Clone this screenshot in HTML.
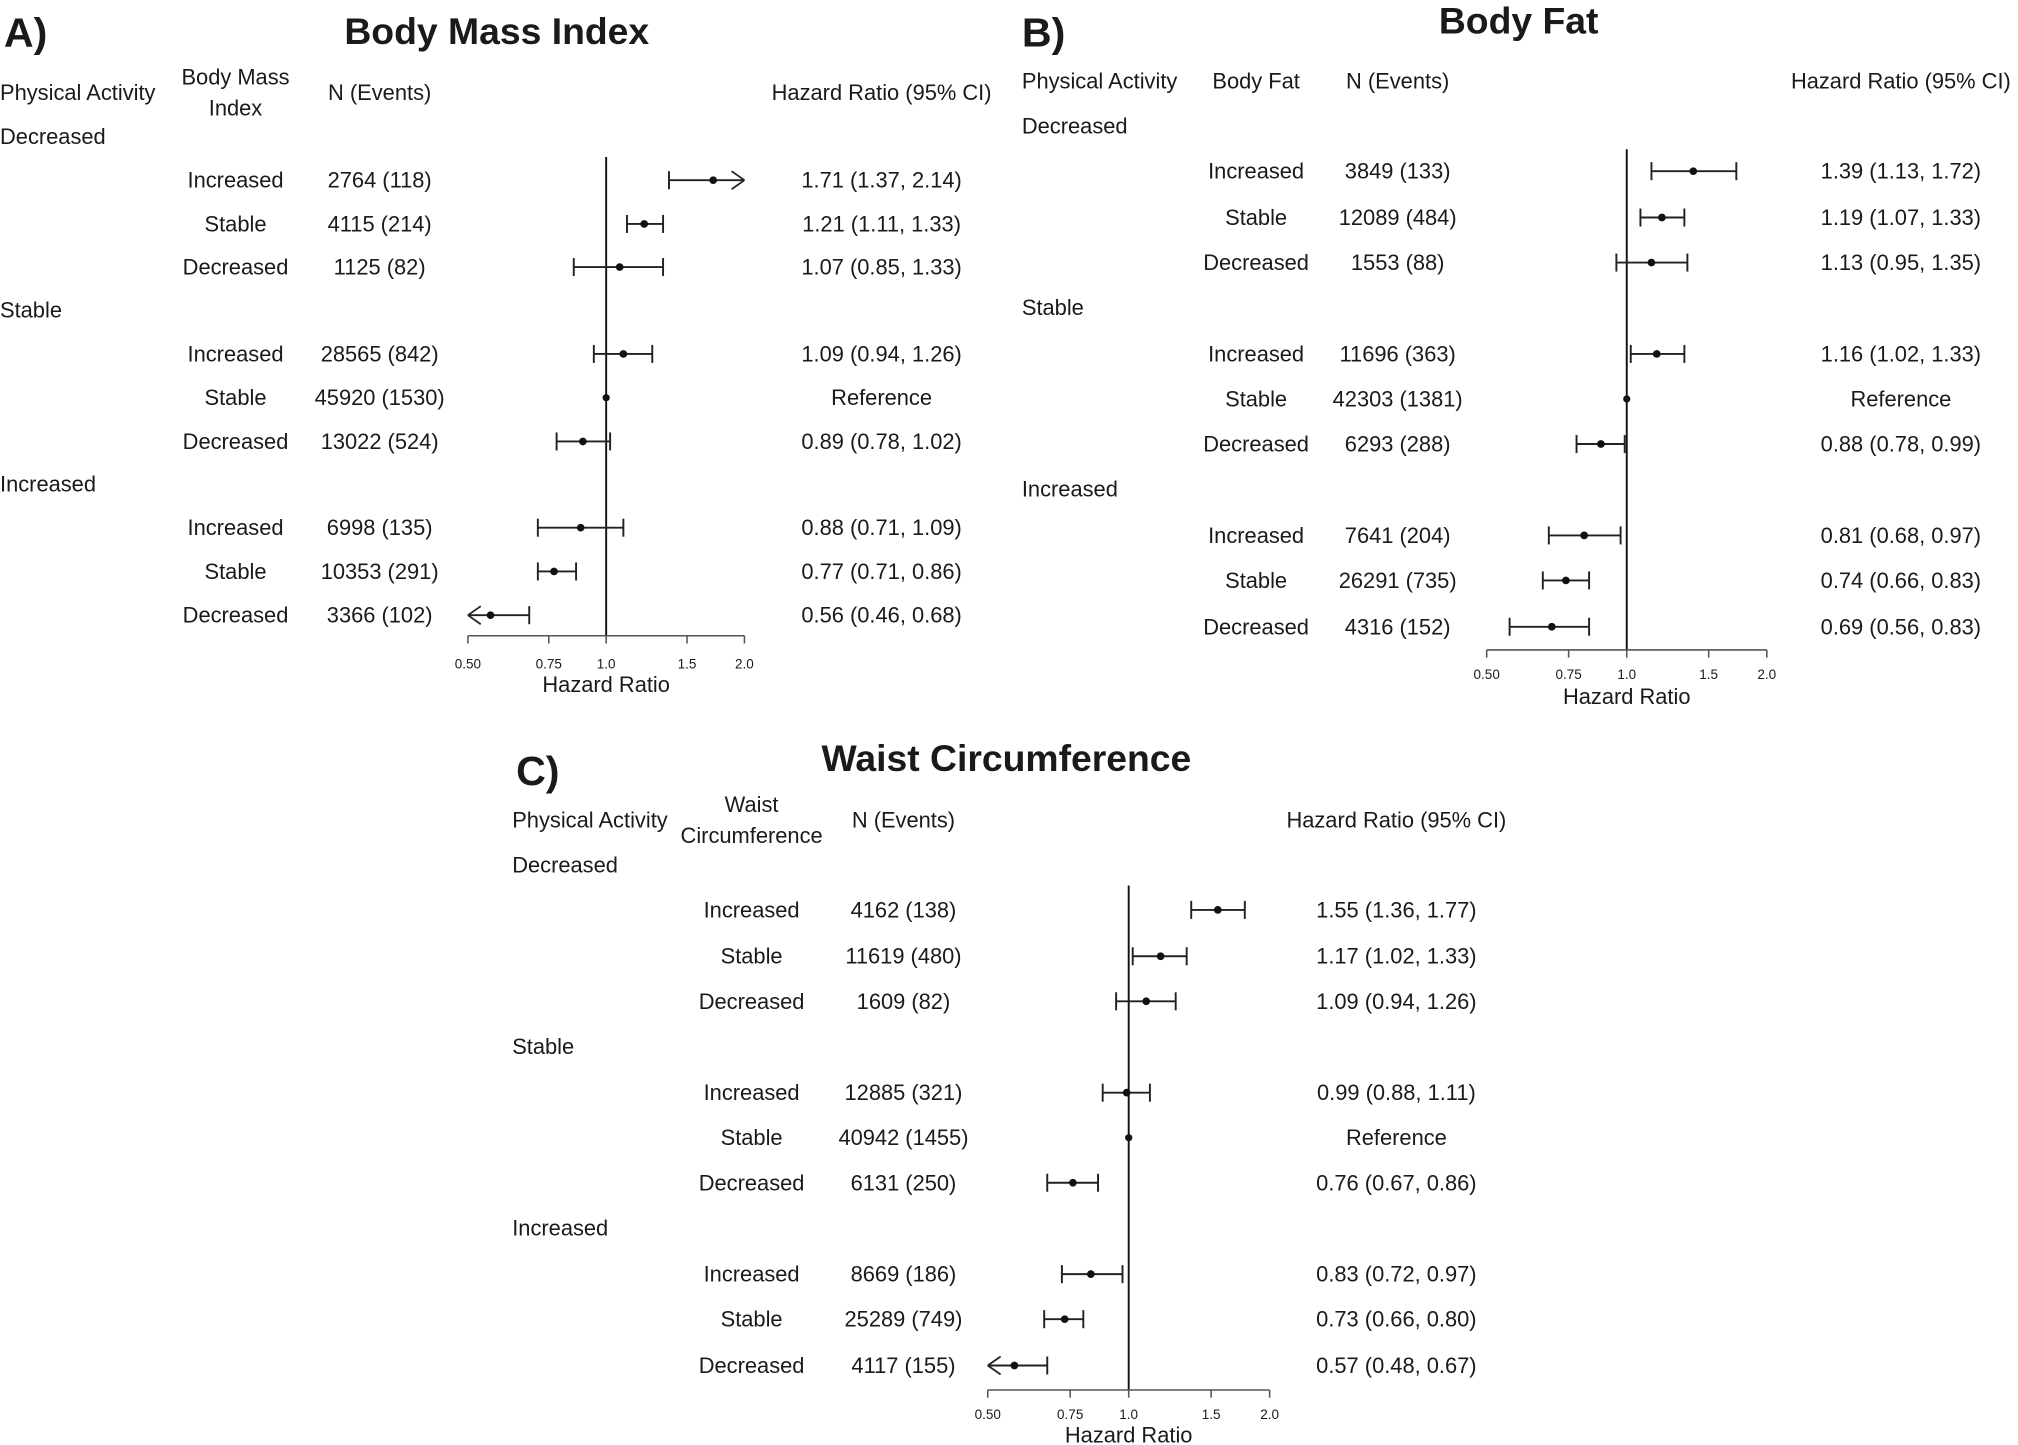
<!DOCTYPE html>
<html><head><meta charset="utf-8"><style>
html,body{margin:0;padding:0;background:#fff}
svg{display:block}
text{font-family:"Liberation Sans",sans-serif;fill:#1a1a1a}
</style></head><body>
<svg id="s" width="2018" height="1445" viewBox="0 0 1568 1122.75" xmlns="http://www.w3.org/2000/svg">
<text x="3" y="36" font-size="32" font-weight="bold">A)</text>
<text x="386" y="34" font-size="29" font-weight="bold" text-anchor="middle">Body Mass Index</text>
<text x="794" y="36" font-size="32" font-weight="bold">B)</text>
<text x="1180" y="26" font-size="29" font-weight="bold" text-anchor="middle">Body Fat</text>
<text x="401" y="610" font-size="32" font-weight="bold">C)</text>
<text x="782" y="599" font-size="29" font-weight="bold" text-anchor="middle">Waist Circumference</text>
</svg>
<script>
var s=document.getElementById('s'),NS='http://www.w3.org/2000/svg';
function el(t,a,txt){var e=document.createElementNS(NS,t);for(var k in a)e.setAttribute(k,a[k]);if(txt!==undefined)e.textContent=txt;s.appendChild(e);return e;}
function T(x,y,t,anc,fs){el('text',{x:x,y:y,'font-size':fs||17,'text-anchor':anc||'middle','dominant-baseline':'central'},t);}
function L(x1,y1,x2,y2,c,w){el('line',{x1:x1,y1:y1,x2:x2,y2:y2,stroke:c||'#222','stroke-width':w||1.5});}
var sub=['Increased','Stable','Decreased'];
var P=[
{ox:0,col:183,n:295,hr:685,vx:471,k:155,hy:72,hl:['Body Mass','Index'],g:[106,241,376],r:[140,174,207.5,275,309,343,410,444,478],vt:122,ay:494,ty:516,ly:532,
N:['2764 (118)','4115 (214)','1125 (82)','28565 (842)','45920 (1530)','13022 (524)','6998 (135)','10353 (291)','3366 (102)'],
d:[[1.71,1.37,2.14],[1.21,1.11,1.33],[1.07,0.85,1.33],[1.09,0.94,1.26],null,[0.89,0.78,1.02],[0.88,0.71,1.09],[0.77,0.71,0.86],[0.56,0.46,0.68]]},
{ox:794,col:976,n:1086,hr:1477,vx:1264,k:157,hy:63,hl:['Body Fat'],g:[98,239,380],r:[133,169,204,275,310,345,416,451,487],vt:116,ay:505,ty:524,ly:541,
N:['3849 (133)','12089 (484)','1553 (88)','11696 (363)','42303 (1381)','6293 (288)','7641 (204)','26291 (735)','4316 (152)'],
d:[[1.39,1.13,1.72],[1.19,1.07,1.33],[1.13,0.95,1.35],[1.16,1.02,1.33],null,[0.88,0.78,0.99],[0.81,0.68,0.97],[0.74,0.66,0.83],[0.69,0.56,0.83]]},
{ox:398,col:584,n:702,hr:1085,vx:877,k:158,hy:637,hl:['Waist','Circumference'],g:[672,813,954],r:[707,743,778,849,884,919,990,1025,1061],vt:688,ay:1080,ty:1099,ly:1115,
N:['4162 (138)','11619 (480)','1609 (82)','12885 (321)','40942 (1455)','6131 (250)','8669 (186)','25289 (749)','4117 (155)'],
d:[[1.55,1.36,1.77],[1.17,1.02,1.33],[1.09,0.94,1.26],[0.99,0.88,1.11],null,[0.76,0.67,0.86],[0.83,0.72,0.97],[0.73,0.66,0.80],[0.57,0.48,0.67]]}
];
P.forEach(function(p){
 T(p.ox,p.hy,'Physical Activity','start');
 if(p.hl.length==1)T(p.col,p.hy,p.hl[0]);else{T(p.col,p.hy-12,p.hl[0]);T(p.col,p.hy+12,p.hl[1]);}
 T(p.n,p.hy,'N (Events)');T(p.hr,p.hy,'Hazard Ratio (95% CI)');
 ['Decreased','Stable','Increased'].forEach(function(g,i){T(p.ox,p.g[i],g,'start');});
 var X=function(v){return p.vx+Math.log(v)*p.k;};
 var lo=X(0.5),hi=X(2.0);
 L(p.vx,p.vt,p.vx,p.ay,'#111',1.5);
 L(lo,p.ay,hi,p.ay,'#555',1.2);
 [['0.50',0.5],['0.75',0.75],['1.0',1],['1.5',1.5],['2.0',2]].forEach(function(t){var x=X(t[1]);L(x,p.ay,x,p.ay+6,'#555',1.2);T(x,p.ty,t[0],'middle',10.5);});
 T(p.vx,p.ly,'Hazard Ratio');
 p.r.forEach(function(y,i){
  T(p.col,y,sub[i%3]);T(p.n,y,p.N[i]);
  var d=p.d[i];
  if(!d){T(p.hr,y,'Reference');el('circle',{cx:p.vx,cy:y,r:2.8,fill:'#111'});return;}
  T(p.hr,y,d[0].toFixed(2)+' ('+d[1].toFixed(2)+', '+d[2].toFixed(2)+')');
  var a=d[1]<0.5?lo:X(d[1]),b=d[2]>2?hi:X(d[2]);
  L(a,y,b,y,'#222',1.5);
  if(d[1]<0.5){L(a,y,a+10,y-7,'#222',1.4);L(a,y,a+10,y+7,'#222',1.4);}else L(a,y-7,a,y+7,'#222',1.5);
  if(d[2]>2){L(b,y,b-10,y-7,'#222',1.4);L(b,y,b-10,y+7,'#222',1.4);}else L(b,y-7,b,y+7,'#222',1.5);
  el('circle',{cx:X(d[0]),cy:y,r:3,fill:'#111'});
 });
});
</script>
</body></html>
